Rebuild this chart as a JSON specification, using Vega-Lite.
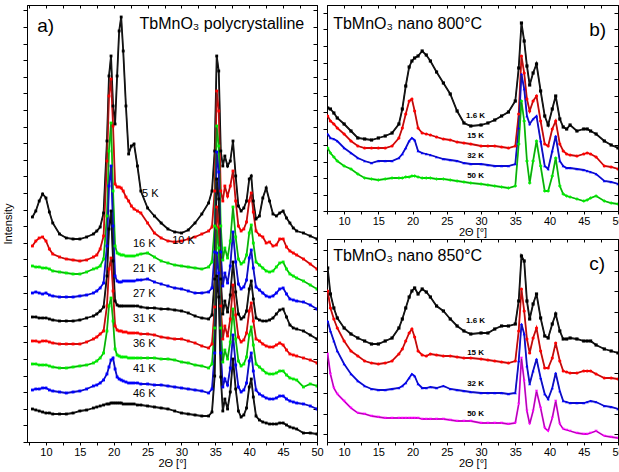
{
"$schema":"https://vega.github.io/schema/vega-lite/v6.json",
"background":"white",
"padding":{"left":2,"top":4,"right":0,"bottom":0},
"config":{"font":"Liberation Sans","view":{"stroke":"black","strokeWidth":1},
"axis":{"grid":false,"domainColor":"black","tickColor":"black","labelColor":"black","titleColor":"black","labelFont":"Liberation Sans","titleFont":"Liberation Sans","labelFontSize":11,"titleFontSize":11,"titleFontWeight":"normal"}},
"datasets":{
"a":[
{"x":8,"K5":225,"K10":196,"K16":176,"K21":149,"K27":125,"K31":101,"K36":78,"K41":52,"K46":33},
{"x":8.5,"K5":231,"K10":201,"K16":175,"K21":150,"K27":125,"K31":101,"K36":78,"K41":53,"K46":32},
{"x":9,"K5":241,"K10":204,"K16":175,"K21":149,"K27":124,"K31":100,"K36":77,"K41":53,"K46":31},
{"x":9.5,"K5":248,"K10":205,"K16":174,"K21":148,"K27":124,"K31":101,"K36":77,"K41":54,"K46":30},
{"x":10,"K5":244,"K10":201,"K16":174,"K21":149,"K27":124,"K31":101,"K36":77,"K41":54,"K46":29},
{"x":10.5,"K5":230,"K10":193,"K16":173,"K21":147,"K27":123,"K31":100,"K36":76,"K41":52,"K46":29},
{"x":11,"K5":219,"K10":188,"K16":171,"K21":146,"K27":122,"K31":99,"K36":75,"K41":51,"K46":28},
{"x":12,"K5":208,"K10":185,"K16":170,"K21":145,"K27":121,"K31":98,"K36":74,"K41":50,"K46":28},
{"x":13,"K5":204,"K10":183,"K16":169,"K21":145,"K27":121,"K31":98,"K36":74,"K41":49,"K46":28},
{"x":14,"K5":203,"K10":182,"K16":168,"K21":145,"K27":121,"K31":98,"K36":75,"K41":50,"K46":29},
{"x":15,"K5":203,"K10":181,"K16":168,"K21":146,"K27":122,"K31":98,"K36":76,"K41":51,"K46":31},
{"x":16,"K5":205,"K10":182,"K16":170,"K21":147,"K27":124,"K31":100,"K36":77,"K41":53,"K46":32},
{"x":17,"K5":208,"K10":185,"K16":173,"K21":149,"K27":126,"K31":103,"K36":79,"K41":56,"K46":34},
{"x":17.5,"K5":211,"K10":187,"K16":174,"K21":151,"K27":128,"K31":105,"K36":81,"K41":57,"K46":35},
{"x":18,"K5":215,"K10":193,"K16":176,"K21":154,"K27":131,"K31":108,"K36":84,"K41":59,"K46":36},
{"x":18.5,"K5":229,"K10":206,"K16":183,"K21":159,"K27":135,"K31":111,"K36":89,"K41":62,"K46":37},
{"x":19,"K5":301,"K10":281,"K16":226,"K21":196,"K27":166,"K31":136,"K36":111,"K41":68,"K46":38},
{"x":19.3,"K5":366,"K10":346,"K16":291,"K21":256,"K27":213,"K31":173,"K36":136,"K41":75,"K46":38},
{"x":19.6,"K5":386,"K10":363,"K16":319,"K21":276,"K27":231,"K31":184,"K36":144,"K41":82,"K46":39},
{"x":19.9,"K5":336,"K10":316,"K16":251,"K21":216,"K27":181,"K31":151,"K36":121,"K41":84,"K46":39},
{"x":20.2,"K5":318,"K10":258,"K16":196,"K21":166,"K27":141,"K31":116,"K36":93,"K41":73,"K46":39},
{"x":20.5,"K5":366,"K10":255,"K16":189,"K21":161,"K27":137,"K31":112,"K36":87,"K41":65,"K46":39},
{"x":20.8,"K5":411,"K10":255,"K16":188,"K21":160,"K27":136,"K31":111,"K36":86,"K41":63,"K46":39},
{"x":21.1,"K5":425,"K10":254,"K16":187,"K21":160,"K27":136,"K31":111,"K36":85,"K41":62,"K46":39},
{"x":21.4,"K5":391,"K10":251,"K16":187,"K21":161,"K27":136,"K31":110,"K36":85,"K41":61,"K46":38},
{"x":21.8,"K5":336,"K10":245,"K16":186,"K21":161,"K27":136,"K31":110,"K36":85,"K41":60,"K46":38},
{"x":22.2,"K5":288,"K10":241,"K16":186,"K21":161,"K27":136,"K31":109,"K36":84,"K41":59,"K46":38},
{"x":22.6,"K5":296,"K10":236,"K16":186,"K21":161,"K27":136,"K31":109,"K36":84,"K41":59,"K46":38},
{"x":23,"K5":298,"K10":233,"K16":186,"K21":161,"K27":136,"K31":109,"K36":84,"K41":59,"K46":38},
{"x":23.5,"K5":276,"K10":231,"K16":187,"K21":162,"K27":136,"K31":109,"K36":84,"K41":59,"K46":37},
{"x":24,"K5":251,"K10":229,"K16":188,"K21":162,"K27":135,"K31":108,"K36":84,"K41":58,"K46":37},
{"x":25,"K5":234,"K10":219,"K16":189,"K21":163,"K27":134,"K31":108,"K36":84,"K41":58,"K46":36},
{"x":26,"K5":226,"K10":209,"K16":185,"K21":160,"K27":134,"K31":107,"K36":84,"K41":57,"K46":35},
{"x":27,"K5":219,"K10":204,"K16":181,"K21":158,"K27":133,"K31":105,"K36":83,"K41":57,"K46":34},
{"x":28,"K5":213,"K10":201,"K16":179,"K21":156,"K27":133,"K31":104,"K36":83,"K41":56,"K46":33},
{"x":29,"K5":210,"K10":200,"K16":177,"K21":154,"K27":132,"K31":103,"K36":82,"K41":55,"K46":31},
{"x":30,"K5":209,"K10":201,"K16":176,"K21":153,"K27":131,"K31":103,"K36":80,"K41":54,"K46":29},
{"x":31,"K5":212,"K10":203,"K16":175,"K21":151,"K27":129,"K31":101,"K36":79,"K41":53,"K46":28},
{"x":32,"K5":219,"K10":205,"K16":174,"K21":149,"K27":126,"K31":99,"K36":77,"K41":52,"K46":27},
{"x":33,"K5":228,"K10":208,"K16":173,"K21":149,"K27":124,"K31":96,"K36":76,"K41":51,"K46":26},
{"x":34,"K5":239,"K10":211,"K16":175,"K21":150,"K27":123,"K31":94,"K36":74,"K41":49,"K46":26},
{"x":34.5,"K5":251,"K10":215,"K16":180,"K21":154,"K27":127,"K31":98,"K36":78,"K41":53,"K46":30},
{"x":34.9,"K5":291,"K10":251,"K16":216,"K21":190,"K27":163,"K31":135,"K36":114,"K41":89,"K46":66},
{"x":35.2,"K5":386,"K10":351,"K16":316,"K21":290,"K27":263,"K31":235,"K36":214,"K41":189,"K46":166},
{"x":35.5,"K5":371,"K10":331,"K16":296,"K21":270,"K27":243,"K31":215,"K36":194,"K41":169,"K46":145},
{"x":35.8,"K5":291,"K10":251,"K16":216,"K21":190,"K27":163,"K31":136,"K36":114,"K41":89,"K46":65},
{"x":36.1,"K5":276,"K10":241,"K16":182,"K21":156,"K27":128,"K31":103,"K36":80,"K41":55,"K46":31},
{"x":36.4,"K5":286,"K10":256,"K16":194,"K21":169,"K27":141,"K31":116,"K36":92,"K41":63,"K46":43},
{"x":36.8,"K5":276,"K10":246,"K16":184,"K21":159,"K27":130,"K31":106,"K36":83,"K41":57,"K46":33},
{"x":37.2,"K5":281,"K10":256,"K16":201,"K21":176,"K27":147,"K31":123,"K36":100,"K41":74,"K46":50},
{"x":37.6,"K5":301,"K10":271,"K16":235,"K21":210,"K27":180,"K31":157,"K36":133,"K41":107,"K46":83},
{"x":38,"K5":266,"K10":241,"K16":205,"K21":180,"K27":150,"K31":127,"K36":103,"K41":77,"K46":53},
{"x":38.4,"K5":236,"K10":216,"K16":183,"K21":158,"K27":128,"K31":105,"K36":81,"K41":55,"K46":31},
{"x":38.8,"K5":231,"K10":211,"K16":178,"K21":153,"K27":123,"K31":100,"K36":76,"K41":50,"K46":25},
{"x":39.2,"K5":234,"K10":213,"K16":180,"K21":155,"K27":125,"K31":102,"K36":78,"K41":52,"K46":27},
{"x":39.6,"K5":241,"K10":220,"K16":187,"K21":162,"K27":131,"K31":109,"K36":85,"K41":59,"K46":34},
{"x":40,"K5":263,"K10":241,"K16":209,"K21":184,"K27":153,"K31":131,"K36":107,"K41":81,"K46":55},
{"x":40.3,"K5":266,"K10":249,"K16":217,"K21":192,"K27":161,"K31":139,"K36":115,"K41":89,"K46":63},
{"x":40.6,"K5":241,"K10":230,"K16":199,"K21":174,"K27":143,"K31":121,"K36":97,"K41":71,"K46":45},
{"x":41,"K5":223,"K10":211,"K16":180,"K21":155,"K27":124,"K31":103,"K36":78,"K41":52,"K46":26},
{"x":41.5,"K5":226,"K10":207,"K16":177,"K21":152,"K27":122,"K31":101,"K36":75,"K41":48,"K46":22},
{"x":42,"K5":244,"K10":205,"K16":174,"K21":149,"K27":121,"K31":98,"K36":72,"K41":46,"K46":20},
{"x":42.5,"K5":254,"K10":199,"K16":171,"K21":146,"K27":121,"K31":96,"K36":69,"K41":44,"K46":19},
{"x":43,"K5":241,"K10":200,"K16":170,"K21":145,"K27":122,"K31":95,"K36":68,"K41":43,"K46":18},
{"x":43.5,"K5":228,"K10":196,"K16":171,"K21":146,"K27":124,"K31":95,"K36":68,"K41":43,"K46":18},
{"x":44,"K5":226,"K10":197,"K16":175,"K21":149,"K27":128,"K31":97,"K36":69,"K41":44,"K46":18},
{"x":44.5,"K5":229,"K10":203,"K16":179,"K21":153,"K27":132,"K31":99,"K36":71,"K41":46,"K46":19},
{"x":45,"K5":231,"K10":203,"K16":180,"K21":154,"K27":133,"K31":97,"K36":71,"K41":46,"K46":19},
{"x":45.5,"K5":224,"K10":195,"K16":173,"K21":148,"K27":125,"K31":92,"K36":67,"K41":43,"K46":17},
{"x":46,"K5":219,"K10":191,"K16":168,"K21":143,"K27":117,"K31":88,"K36":64,"K41":41,"K46":15},
{"x":46.5,"K5":214,"K10":189,"K16":166,"K21":142,"K27":114,"K31":87,"K36":63,"K41":40,"K46":14},
{"x":47,"K5":211,"K10":187,"K16":164,"K21":141,"K27":113,"K31":86,"K36":62,"K41":39,"K46":13},
{"x":48,"K5":209,"K10":183,"K16":161,"K21":140,"K27":111,"K31":84,"K36":55,"K41":38,"K46":9},
{"x":49,"K5":206,"K10":178,"K16":157,"K21":137,"K27":107,"K31":82,"K36":58,"K41":36,"K46":9},
{"x":50,"K5":203,"K10":173,"K16":153,"K21":133,"K27":103,"K31":79,"K36":56,"K41":33,"K46":8}
],
"b":[
{"x":7.6,"B1":103,"B15":95,"B32":77,"B50":63},
{"x":8,"B1":102,"B15":90,"B32":73,"B50":58},
{"x":8.5,"B1":98,"B15":87,"B32":72,"B50":54},
{"x":9,"B1":93,"B15":83,"B32":70,"B50":50},
{"x":10,"B1":87,"B15":77,"B32":63,"B50":45},
{"x":11,"B1":80,"B15":70,"B32":58,"B50":42},
{"x":12,"B1":73,"B15":65,"B32":53,"B50":37},
{"x":13,"B1":72,"B15":63,"B32":50,"B50":33},
{"x":14,"B1":71,"B15":63,"B32":48,"B50":32},
{"x":15,"B1":73,"B15":63,"B32":50,"B50":31},
{"x":16,"B1":75,"B15":63,"B32":50,"B50":32},
{"x":17,"B1":78,"B15":65,"B32":50,"B50":33},
{"x":18,"B1":87,"B15":73,"B32":53,"B50":33},
{"x":18.5,"B1":102,"B15":83,"B32":57,"B50":33},
{"x":19,"B1":125,"B15":97,"B32":63,"B50":34},
{"x":19.5,"B1":144,"B15":110,"B32":70,"B50":34},
{"x":19.9,"B1":150,"B15":112,"B32":73,"B50":35},
{"x":20.3,"B1":153,"B15":100,"B32":71,"B50":35},
{"x":20.8,"B1":155,"B15":83,"B32":60,"B50":34},
{"x":21.4,"B1":160,"B15":78,"B32":58,"B50":33},
{"x":22,"B1":156,"B15":77,"B32":57,"B50":33},
{"x":22.6,"B1":150,"B15":76,"B32":56,"B50":33},
{"x":23.5,"B1":139,"B15":74,"B32":54,"B50":32},
{"x":24.5,"B1":128,"B15":72,"B32":52,"B50":32},
{"x":25.5,"B1":117,"B15":71,"B32":51,"B50":31},
{"x":26.5,"B1":100,"B15":69,"B32":50,"B50":30},
{"x":27.5,"B1":88,"B15":68,"B32":48,"B50":29},
{"x":28.5,"B1":85,"B15":67,"B32":47,"B50":28},
{"x":30,"B1":86,"B15":65,"B32":47,"B50":27},
{"x":31,"B1":88,"B15":65,"B32":46,"B50":26},
{"x":32,"B1":91,"B15":65,"B32":45,"B50":25},
{"x":33,"B1":95,"B15":64,"B32":45,"B50":24},
{"x":34,"B1":99,"B15":63,"B32":45,"B50":23},
{"x":35,"B1":110,"B15":65,"B32":47,"B50":25},
{"x":35.5,"B1":143,"B15":97,"B32":83,"B50":67},
{"x":35.9,"B1":188,"B15":155,"B32":137,"B50":110},
{"x":36.3,"B1":170,"B15":138,"B32":122,"B50":90},
{"x":36.7,"B1":145,"B15":112,"B32":95,"B50":50},
{"x":37.1,"B1":126,"B15":100,"B32":87,"B50":28},
{"x":37.6,"B1":138,"B15":110,"B32":92,"B50":50},
{"x":38.1,"B1":147,"B15":115,"B32":95,"B50":70},
{"x":38.7,"B1":120,"B15":90,"B32":70,"B50":45},
{"x":39.3,"B1":95,"B15":67,"B32":45,"B50":20},
{"x":39.8,"B1":86,"B15":65,"B32":42,"B50":20},
{"x":40.4,"B1":102,"B15":82,"B32":60,"B50":35},
{"x":40.9,"B1":115,"B15":90,"B32":75,"B50":53},
{"x":41.5,"B1":92,"B15":67,"B32":50,"B50":25},
{"x":42,"B1":84,"B15":60,"B32":45,"B50":17},
{"x":42.5,"B1":82,"B15":57,"B32":43,"B50":15},
{"x":43,"B1":86,"B15":56,"B32":43,"B50":14},
{"x":44,"B1":80,"B15":55,"B32":42,"B50":12},
{"x":45,"B1":82,"B15":57,"B32":41,"B50":10},
{"x":45.5,"B1":82,"B15":58,"B32":40,"B50":11},
{"x":46,"B1":80,"B15":57,"B32":39,"B50":13},
{"x":46.8,"B1":77,"B15":54,"B32":37,"B50":15},
{"x":48,"B1":70,"B15":45,"B32":30,"B50":10},
{"x":49,"B1":66,"B15":44,"B32":29,"B50":8},
{"x":50,"B1":63,"B15":42,"B32":27,"B50":7}
],
"c":[
{"x":7.6,"C1":174,"C15":151,"C32":121,"C50":88},
{"x":8,"C1":148,"C15":134,"C32":111,"C50":68},
{"x":8.5,"C1":134,"C15":123,"C32":101,"C50":54},
{"x":9,"C1":124,"C15":114,"C32":91,"C50":48},
{"x":10,"C1":114,"C15":101,"C32":78,"C50":41},
{"x":11,"C1":108,"C15":91,"C32":68,"C50":34},
{"x":12,"C1":104,"C15":86,"C32":61,"C50":29},
{"x":13,"C1":101,"C15":81,"C32":56,"C50":28},
{"x":14,"C1":98,"C15":79,"C32":53,"C50":26},
{"x":15,"C1":98,"C15":78,"C32":52,"C50":25},
{"x":16,"C1":101,"C15":79,"C32":52,"C50":24},
{"x":17,"C1":104,"C15":81,"C32":53,"C50":24},
{"x":18,"C1":114,"C15":88,"C32":54,"C50":24},
{"x":18.5,"C1":123,"C15":93,"C32":56,"C50":24},
{"x":19,"C1":134,"C15":101,"C32":59,"C50":24},
{"x":19.5,"C1":145,"C15":109,"C32":64,"C50":24},
{"x":19.9,"C1":151,"C15":113,"C32":68,"C50":24},
{"x":20.3,"C1":154,"C15":105,"C32":66,"C50":24},
{"x":20.8,"C1":148,"C15":91,"C32":58,"C50":24},
{"x":21.4,"C1":153,"C15":87,"C32":54,"C50":23},
{"x":22,"C1":150,"C15":86,"C32":54,"C50":23},
{"x":22.6,"C1":145,"C15":88,"C32":55,"C50":23},
{"x":23.5,"C1":136,"C15":87,"C32":54,"C50":23},
{"x":24.5,"C1":131,"C15":86,"C32":56,"C50":23},
{"x":25.5,"C1":123,"C15":86,"C32":53,"C50":22},
{"x":26.5,"C1":116,"C15":85,"C32":52,"C50":21},
{"x":27.5,"C1":111,"C15":84,"C32":51,"C50":21},
{"x":28.5,"C1":108,"C15":84,"C32":50,"C50":21},
{"x":30,"C1":109,"C15":83,"C32":49,"C50":19},
{"x":31,"C1":109,"C15":82,"C32":49,"C50":19},
{"x":32,"C1":113,"C15":81,"C32":49,"C50":19},
{"x":33,"C1":116,"C15":80,"C32":49,"C50":19},
{"x":34,"C1":116,"C15":79,"C32":48,"C50":18},
{"x":35,"C1":118,"C15":81,"C32":49,"C50":19},
{"x":35.5,"C1":141,"C15":111,"C32":81,"C50":38},
{"x":35.9,"C1":186,"C15":153,"C32":118,"C50":84},
{"x":36.3,"C1":181,"C15":131,"C32":108,"C50":61},
{"x":36.7,"C1":141,"C15":103,"C32":76,"C50":31},
{"x":37.1,"C1":123,"C15":89,"C32":58,"C50":18},
{"x":37.6,"C1":138,"C15":104,"C32":71,"C50":31},
{"x":38.1,"C1":148,"C15":114,"C32":83,"C50":51},
{"x":38.7,"C1":124,"C15":91,"C32":64,"C50":34},
{"x":39.3,"C1":106,"C15":74,"C32":48,"C50":14},
{"x":39.8,"C1":104,"C15":74,"C32":43,"C50":11},
{"x":40.4,"C1":118,"C15":84,"C32":54,"C50":24},
{"x":40.9,"C1":128,"C15":99,"C32":69,"C50":41},
{"x":41.5,"C1":111,"C15":81,"C32":51,"C50":18},
{"x":42,"C1":103,"C15":71,"C32":41,"C50":13},
{"x":42.5,"C1":103,"C15":70,"C32":40,"C50":12},
{"x":43,"C1":104,"C15":69,"C32":39,"C50":11},
{"x":44,"C1":103,"C15":69,"C32":39,"C50":9},
{"x":45,"C1":101,"C15":71,"C32":39,"C50":8},
{"x":45.5,"C1":101,"C15":71,"C32":40,"C50":8},
{"x":46,"C1":101,"C15":71,"C32":41,"C50":9},
{"x":46.8,"C1":97,"C15":68,"C32":40,"C50":11},
{"x":48,"C1":93,"C15":64,"C32":36,"C50":6},
{"x":49,"C1":91,"C15":64,"C32":35,"C50":5},
{"x":50,"C1":89,"C15":63,"C32":33,"C50":4}
],
"labA":[
{"t":"5 K","x":25.4,"y":248},{"t":"10 K","x":30.3,"y":201},{"t":"16 K","x":24.5,"y":198},{"t":"21 K","x":24.5,"y":173},{"t":"27 K","x":24.5,"y":148},{"t":"31 K","x":24.5,"y":123},{"t":"36 K","x":24.5,"y":98},{"t":"41 K","x":24.5,"y":73},{"t":"46 K","x":24.5,"y":48}
],
"labB":[
{"t":"1.6 K","x":29.2,"y":95},{"t":"15 K","x":29.2,"y":75},{"t":"32 K","x":29.2,"y":55},{"t":"50 K","x":29.2,"y":35}
],
"labC":[
{"t":"1.6 K","x":29.2,"y":121},{"t":"15 K","x":29.2,"y":89},{"t":"32 K","x":29.2,"y":58},{"t":"50 K","x":29.2,"y":28}
]
},
"bounds":"flush",
"spacing":10,
"resolve":{"scale":{"x":"independent","y":"independent","color":"independent","shape":"independent"}},
"hconcat":[
{
"width":290,"height":437,
"resolve":{"axis":{"x":"independent","y":"independent"}},
"layer":[
{"data":{"name":"a"},"transform":[{"fold":["K5","K10","K16","K21","K27","K31","K36","K41","K46"],"as":["key","value"]}],
"mark":{"type":"line","strokeWidth":1.8,"clip":true},
"encoding":{
"x":{"field":"x","type":"quantitative","scale":{"domain":[7.2,50],"nice":false,"zero":false},
"axis":{"orient":"bottom","values":[7.5,10,12.5,15,17.5,20,22.5,25,27.5,30,32.5,35,37.5,40,42.5,45,47.5,50],"labelExpr":"datum.value % 5 === 0 ? datum.label : ''","tickSize":3,"labelPadding":1,"labelFlush":false,"labelOverlap":false,"title":"2Θ [°]","titlePadding":0}},
"y":{"field":"value","type":"quantitative","scale":{"domain":[0,437],"nice":false,"zero":false},
"axis":{"orient":"left","values":[0,16.6,33.2,49.8,66.4,83,99.6,116.2,132.8,149.4,166,182.6,199.2,215.8,232.4,249,265.6,282.2,298.8,315.4,332,348.6,365.2,381.8,398.4,415,431.6],"labels":false,"tickSize":4,"title":"Intensity","titlePadding":9}},
"color":{"field":"key","type":"nominal","scale":{"domain":["K5","K10","K16","K21","K27","K31","K36","K41","K46"],"range":["#000000","#ff0000","#00ee00","#0000ff","#000000","#ff0000","#00ee00","#0000ff","#000000"]},"legend":null}}},
{"data":{"name":"a"},"transform":[{"fold":["K5","K10","K16","K21","K27","K31","K36","K41","K46"],"as":["key","value"]}],
"mark":{"type":"line","strokeWidth":0.5,"color":"#333333","clip":true},
"encoding":{
"x":{"field":"x","type":"quantitative","scale":{"domain":[7.2,50],"nice":false,"zero":false},"axis":null},
"y":{"field":"value","type":"quantitative","scale":{"domain":[0,437],"nice":false,"zero":false},"axis":null},
"detail":{"field":"key"}}},
{"data":{"name":"a"},"transform":[{"fold":["K5","K10","K16","K21","K27","K31","K36","K41","K46"],"as":["key","value"]}],
"mark":{"type":"point","shape":"square","filled":true,"size":8,"opacity":1,"clip":true},
"encoding":{
"x":{"field":"x","type":"quantitative","scale":{"domain":[7.2,50],"nice":false,"zero":false},"axis":null},
"y":{"field":"value","type":"quantitative","scale":{"domain":[0,437],"nice":false,"zero":false},"axis":null},
"color":{"field":"key","type":"nominal","legend":null}}},
{"data":{"name":"labA"},
"mark":{"type":"text","fontSize":11,"font":"Liberation Sans","color":"black"},
"encoding":{
"x":{"field":"x","type":"quantitative","scale":{"domain":[7.2,50],"nice":false,"zero":false},
"axis":{"orient":"top","values":[7.5,10,12.5,15,17.5,20,22.5,25,27.5,30,32.5,35,37.5,40,42.5,45,47.5,50],"labels":false,"tickSize":-3,"title":null}},
"y":{"field":"y","type":"quantitative","scale":{"domain":[0,437],"nice":false,"zero":false},
"axis":{"orient":"right","values":[0,16.6,33.2,49.8,66.4,83,99.6,116.2,132.8,149.4,166,182.6,199.2,215.8,232.4,249,265.6,282.2,298.8,315.4,332,348.6,365.2,381.8,398.4,415,431.6],"labels":false,"tickSize":-4,"title":null}},
"text":{"field":"t"}}},
{"data":{"values":[{"t":"TbMnO₃ polycrystalline","x":23.8,"y":418}]},
"mark":{"type":"text","fontSize":16,"align":"left","baseline":"middle","font":"Liberation Sans","color":"black"},
"encoding":{
"x":{"field":"x","type":"quantitative","scale":{"domain":[7.2,50],"nice":false,"zero":false},"axis":null},
"y":{"field":"y","type":"quantitative","scale":{"domain":[0,437],"nice":false,"zero":false},"axis":null},
"text":{"field":"t"}}},
{"data":{"values":[{"t":"a)","x":8.7,"y":416}]},
"mark":{"type":"text","fontSize":19,"align":"left","baseline":"middle","font":"Liberation Sans","color":"black"},
"encoding":{
"x":{"field":"x","type":"quantitative","scale":{"domain":[7.2,50],"nice":false,"zero":false},"axis":null},
"y":{"field":"y","type":"quantitative","scale":{"domain":[0,437],"nice":false,"zero":false},"axis":null},
"text":{"field":"t"}}}
]
},
{
"vconcat":[
{
"width":291,"height":206,
"resolve":{"axis":{"x":"independent","y":"independent"}},
"layer":[
{"data":{"name":"b"},"transform":[{"fold":["B1","B15","B32","B50"],"as":["key","value"]}],
"mark":{"type":"line","strokeWidth":1.8,"clip":true},
"encoding":{
"x":{"field":"x","type":"quantitative","scale":{"domain":[7.5,50],"nice":false,"zero":false},
"axis":{"orient":"bottom","values":[7.5,10,12.5,15,17.5,20,22.5,25,27.5,30,32.5,35,37.5,40,42.5,45,47.5,50],"labelExpr":"datum.value % 5 === 0 ? datum.label : ''","tickSize":3,"labelPadding":1,"labelFlush":false,"labelOverlap":false,"title":"2Θ [°]","titlePadding":0}},
"y":{"field":"value","type":"quantitative","scale":{"domain":[0,206],"nice":false,"zero":false},
"axis":{"orient":"left","values":[0,16.5,33,49.5,66,82.5,99,115.5,132,148.5,165,181.5,198],"labels":false,"tickSize":4,"title":null}},
"color":{"field":"key","type":"nominal","scale":{"domain":["B1","B15","B32","B50"],"range":["#000000","#ff0000","#0000ff","#00ee00"]},"legend":null}}},
{"data":{"name":"b"},"transform":[{"fold":["B1","B15","B32","B50"],"as":["key","value"]}],
"mark":{"type":"line","strokeWidth":0.5,"color":"#333333","clip":true},
"encoding":{
"x":{"field":"x","type":"quantitative","scale":{"domain":[7.5,50],"nice":false,"zero":false},"axis":null},
"y":{"field":"value","type":"quantitative","scale":{"domain":[0,206],"nice":false,"zero":false},"axis":null},
"detail":{"field":"key"}}},
{"data":{"name":"b"},"transform":[{"fold":["B1","B15","B32","B50"],"as":["key","value"]}],
"mark":{"type":"point","filled":true,"size":10,"opacity":1,"clip":true},
"encoding":{
"x":{"field":"x","type":"quantitative","scale":{"domain":[7.5,50],"nice":false,"zero":false},"axis":null},
"y":{"field":"value","type":"quantitative","scale":{"domain":[0,206],"nice":false,"zero":false},"axis":null},
"color":{"field":"key","type":"nominal","legend":null},
"shape":{"field":"key","type":"nominal","scale":{"domain":["B1","B15","B32","B50"],"range":["square","circle","triangle-up","cross"]},"legend":null}}},
{"data":{"name":"labB"},
"mark":{"type":"text","fontSize":8,"fontWeight":"bold","font":"Liberation Sans","color":"black"},
"encoding":{
"x":{"field":"x","type":"quantitative","scale":{"domain":[7.5,50],"nice":false,"zero":false},
"axis":{"orient":"top","values":[7.5,10,12.5,15,17.5,20,22.5,25,27.5,30,32.5,35,37.5,40,42.5,45,47.5,50],"labels":false,"tickSize":-3,"title":null}},
"y":{"field":"y","type":"quantitative","scale":{"domain":[0,206],"nice":false,"zero":false},
"axis":{"orient":"right","values":[0,16.5,33,49.5,66,82.5,99,115.5,132,148.5,165,181.5,198],"labels":false,"tickSize":-4,"title":null}},
"text":{"field":"t"}}},
{"data":{"values":[{"t":"TbMnO₃ nano 800°C","x":8.4,"y":187}]},
"mark":{"type":"text","fontSize":16,"align":"left","baseline":"middle","font":"Liberation Sans","color":"black"},
"encoding":{
"x":{"field":"x","type":"quantitative","scale":{"domain":[7.5,50],"nice":false,"zero":false},"axis":null},
"y":{"field":"y","type":"quantitative","scale":{"domain":[0,206],"nice":false,"zero":false},"axis":null},
"text":{"field":"t"}}},
{"data":{"values":[{"t":"b)","x":45.8,"y":181}]},
"mark":{"type":"text","fontSize":19,"align":"left","baseline":"middle","font":"Liberation Sans","color":"black"},
"encoding":{
"x":{"field":"x","type":"quantitative","scale":{"domain":[7.5,50],"nice":false,"zero":false},"axis":null},
"y":{"field":"y","type":"quantitative","scale":{"domain":[0,206],"nice":false,"zero":false},"axis":null},
"text":{"field":"t"}}}
]
},
{
"width":291,"height":203,
"resolve":{"axis":{"x":"independent","y":"independent"}},
"layer":[
{"data":{"name":"c"},"transform":[{"fold":["C1","C15","C32","C50"],"as":["key","value"]}],
"mark":{"type":"line","strokeWidth":1.8,"clip":true},
"encoding":{
"x":{"field":"x","type":"quantitative","scale":{"domain":[7.5,50],"nice":false,"zero":false},
"axis":{"orient":"bottom","values":[7.5,10,12.5,15,17.5,20,22.5,25,27.5,30,32.5,35,37.5,40,42.5,45,47.5,50],"labelExpr":"datum.value % 5 === 0 ? datum.label : ''","tickSize":3,"labelPadding":1,"labelFlush":false,"labelOverlap":false,"title":"2Θ [°]","titlePadding":0}},
"y":{"field":"value","type":"quantitative","scale":{"domain":[0,203],"nice":false,"zero":false},
"axis":{"orient":"left","values":[8,28.4,48.8,69.2,89.6,110,130.4,150.8,171.2,191.6],"labels":false,"tickSize":4,"title":null}},
"color":{"field":"key","type":"nominal","scale":{"domain":["C1","C15","C32","C50"],"range":["#000000","#ff0000","#0000ff","#ff00ff"]},"legend":null}}},
{"data":{"name":"c"},"transform":[{"fold":["C1","C15","C32","C50"],"as":["key","value"]}],
"mark":{"type":"line","strokeWidth":0.5,"color":"#333333","clip":true},
"encoding":{
"x":{"field":"x","type":"quantitative","scale":{"domain":[7.5,50],"nice":false,"zero":false},"axis":null},
"y":{"field":"value","type":"quantitative","scale":{"domain":[0,203],"nice":false,"zero":false},"axis":null},
"detail":{"field":"key"}}},
{"data":{"name":"c"},"transform":[{"fold":["C1","C15","C32","C50"],"as":["key","value"]}],
"mark":{"type":"point","filled":true,"size":10,"opacity":1,"clip":true},
"encoding":{
"x":{"field":"x","type":"quantitative","scale":{"domain":[7.5,50],"nice":false,"zero":false},"axis":null},
"y":{"field":"value","type":"quantitative","scale":{"domain":[0,203],"nice":false,"zero":false},"axis":null},
"color":{"field":"key","type":"nominal","legend":null},
"shape":{"field":"key","type":"nominal","scale":{"domain":["C1","C15","C32","C50"],"range":["square","circle","triangle-up","triangle-down"]},"legend":null}}},
{"data":{"name":"labC"},
"mark":{"type":"text","fontSize":8,"fontWeight":"bold","font":"Liberation Sans","color":"black"},
"encoding":{
"x":{"field":"x","type":"quantitative","scale":{"domain":[7.5,50],"nice":false,"zero":false},
"axis":{"orient":"top","values":[7.5,10,12.5,15,17.5,20,22.5,25,27.5,30,32.5,35,37.5,40,42.5,45,47.5,50],"labels":false,"tickSize":-3,"title":null}},
"y":{"field":"y","type":"quantitative","scale":{"domain":[0,203],"nice":false,"zero":false},
"axis":{"orient":"right","values":[8,28.4,48.8,69.2,89.6,110,130.4,150.8,171.2,191.6],"labels":false,"tickSize":-4,"title":null}},
"text":{"field":"t"}}},
{"data":{"values":[{"t":"TbMnO₃ nano 850°C","x":8.4,"y":186}]},
"mark":{"type":"text","fontSize":16,"align":"left","baseline":"middle","font":"Liberation Sans","color":"black"},
"encoding":{
"x":{"field":"x","type":"quantitative","scale":{"domain":[7.5,50],"nice":false,"zero":false},"axis":null},
"y":{"field":"y","type":"quantitative","scale":{"domain":[0,203],"nice":false,"zero":false},"axis":null},
"text":{"field":"t"}}},
{"data":{"values":[{"t":"c)","x":45.8,"y":178}]},
"mark":{"type":"text","fontSize":19,"align":"left","baseline":"middle","font":"Liberation Sans","color":"black"},
"encoding":{
"x":{"field":"x","type":"quantitative","scale":{"domain":[7.5,50],"nice":false,"zero":false},"axis":null},
"y":{"field":"y","type":"quantitative","scale":{"domain":[0,203],"nice":false,"zero":false},"axis":null},
"text":{"field":"t"}}}
]
}
],
"spacing":28,
"bounds":"flush",
"resolve":{"scale":{"x":"independent","y":"independent","color":"independent","shape":"independent"}}
}
]
}
